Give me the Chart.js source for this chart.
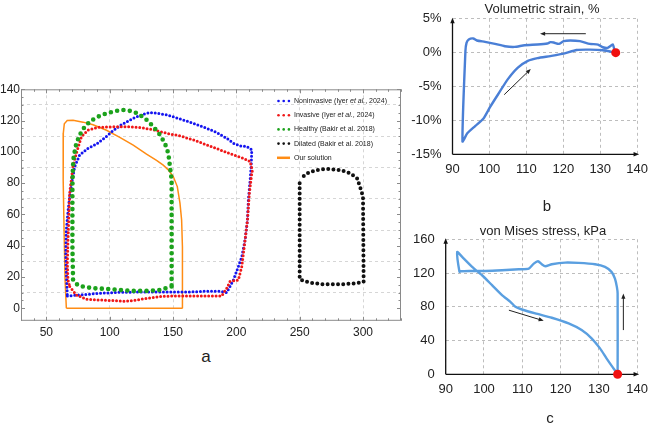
<!DOCTYPE html>
<html>
<head>
<meta charset="utf-8">
<script src="https://cdn.jsdelivr.net/npm/chart.js@4.4.0/dist/chart.umd.min.js"></script>
<style>
  html, body { margin: 0; padding: 0; background: #fff; }
  #wrap { position: relative; width: 655px; height: 424px; overflow: hidden;
          font-family: "Liberation Sans", Arial, sans-serif; color: #222; }
  .box { position: absolute; }
  .lbl { position: absolute; transform: translate(-50%, -50%); white-space: nowrap; }
</style>
</head>
<body>
<div id="wrap">
  <canvas id="pv" class="box" width="410" height="270" style="left:0;top:75px"></canvas>
  <canvas id="strain" class="box" width="250" height="185" style="left:405px;top:0"></canvas>
  <canvas id="stress" class="box" width="255" height="185" style="left:400px;top:220px"></canvas>
  <div class="lbl" style="left:542px;top:8px;font-size:13px">Volumetric strain, %</div>
  <div class="lbl" style="left:543px;top:230px;font-size:13px">von Mises stress, kPa</div>
  <div class="lbl" style="left:206px;top:357px;font-size:17px">a</div>
  <div class="lbl" style="left:547px;top:205px;font-size:15px">b</div>
  <div class="lbl" style="left:550px;top:417px;font-size:15px">c</div>
</div>
<script>
// ---- panel a: pressure-volume loops (mL, mmHg) ----
const noninvasiveVol = [66.6, 76.4, 92.2, 108.0, 123.8, 144.9, 160.8, 176.6, 187.1, 192.4, 195.0, 197.7, 201.6, 204.3, 206.9, 208.8, 209.5, 210.9, 211.7, 212.2, 208.2, 203.0, 197.7, 192.4, 184.5, 176.6, 166.0, 155.5, 144.9, 137.0, 131.8, 125.2, 118.6, 109.3, 102.7, 96.1, 89.6, 82.9, 76.3, 72.4, 70.0, 68.4, 67.1, 65.8, 65.3, 65.8, 66.6];
const noninvasiveP   = [7.9, 8.5, 9.6, 10.2, 10.4, 10.4, 10.4, 10.9, 10.9, 10.0, 13.9, 18.1, 26.7, 33.0, 43.7, 56.5, 69.3, 82.1, 90.6, 101.3, 103.4, 103.8, 105.5, 108.7, 112.4, 115.1, 118.3, 121.1, 123.7, 124.7, 125.2, 123.6, 121.5, 117.4, 113.5, 109.0, 105.0, 102.3, 98.0, 90.5, 80.0, 71.4, 62.0, 50.1, 35.2, 22.4, 7.9];

const invasiveVol = [68.5, 73.7, 81.6, 92.2, 102.7, 113.3, 121.2, 129.1, 139.7, 150.2, 166.0, 179.2, 188.4, 192.4, 195.0, 199.0, 201.6, 204.3, 206.9, 208.8, 210.3, 212.2, 212.7, 210.9, 205.6, 197.7, 187.1, 176.6, 166.0, 155.5, 144.9, 134.4, 123.8, 113.3, 102.7, 90.8, 82.9, 77.7, 73.7, 71.0, 68.4, 67.1, 66.6, 67.1, 68.5];
const invasiveP   = [13.9, 8.5, 5.8, 5.3, 4.9, 4.5, 5.3, 6.4, 7.5, 7.9, 7.9, 7.9, 7.9, 12.8, 17.1, 17.7, 18.1, 26.7, 43.7, 56.5, 73.6, 86.4, 88.1, 93.8, 95.9, 98.1, 101.3, 104.5, 107.7, 110.2, 111.9, 114.1, 115.6, 116.1, 116.0, 115.7, 114.0, 109.7, 99.1, 90.5, 73.5, 43.7, 28.8, 18.1, 13.9];

const healthyVol = [148.9, 139.7, 129.1, 118.6, 108.0, 97.5, 86.9, 79.0, 75.1, 71.1, 70.6, 70.6, 70.6, 71.0, 71.6, 73.7, 76.4, 80.3, 85.0, 90.8, 97.5, 105.4, 109.3, 113.3, 118.6, 123.8, 129.1, 134.4, 139.7, 143.6, 146.3, 147.6, 148.9, 148.9, 148.9, 148.9];
const healthyP   = [13.9, 11.7, 11.1, 11.1, 11.7, 12.4, 12.8, 13.9, 14.5, 18.1, 39.4, 65.0, 77.8, 90.5, 97.0, 105.5, 110.9, 116.1, 119.8, 122.5, 124.7, 126.2, 126.8, 126.6, 125.8, 123.7, 120.5, 116.2, 110.9, 105.5, 99.1, 90.6, 82.1, 56.5, 30.9, 13.9];

const dilatedVol = [250.0, 250.0, 253.0, 258.3, 268.8, 282.0, 295.2, 300.5, 300.0, 297.6, 295.3, 290.0, 282.0, 271.5, 263.6, 257.0, 252.5];
const dilatedP   = [80.0, 18.5, 17.5, 16.4, 15.3, 15.3, 16.0, 17.0, 71.4, 77.8, 83.1, 86.3, 88.4, 89.1, 88.4, 86.7, 84.1];

const solutionVol = [65.8, 157.6, 157.6, 157.3, 156.8, 155.5, 153.4, 150.2, 146.3, 142.3, 137.0, 129.1, 118.6, 108.0, 97.5, 86.9, 79.0, 71.1, 66.5, 64.2, 63.4, 63.2, 63.4, 64.0, 64.8, 65.8];
const solutionP   = [0, 0, 18.1, 39.4, 56.5, 67.2, 77.8, 84.2, 88.5, 91.5, 94.5, 98.5, 104.3, 109.3, 113.8, 117.3, 119.0, 120.2, 120.0, 118.0, 112.0, 100.0, 82.1, 50.1, 18.1, 0];

const legendLabels = [
  'Noninvasive (Iyer |et al.|, 2024)',
  'Invasive (Iyer |et al.|, 2024)',
  'Healthy (Bakir et al. 2018)',
  'Dilated (Bakir et al. 2018)',
  'Our solution'
];

// ---- panel b: volumetric strain (%) vs volume ----
const strainVol = [134.2, 133.8, 133.4, 132.0, 130.7, 129.4, 127.2, 124.5, 121.9, 120.1, 118.8, 117.4, 116.5, 115.7, 113.0, 109.5, 106.8, 104.2, 101.5, 98.8, 96.6, 95.6, 94.4, 93.8, 93.5, 92.7, 94.0, 96.2, 98.4, 100.2, 102.4, 105.0, 107.7, 110.4, 113.0, 116.5, 120.1, 123.6, 127.2, 130.7, 134.2];
const strainPct = [0, 0.5, 1.2, 0.7, 0.8, 1.2, 1.3, 1.7, 1.8, 1.7, 1.3, 1.5, 1.55, 1.35, 1.2, 1.1, 0.85, 0.95, 1.3, 1.6, 1.8, 2.1, 1.95, 1.45, 0.25, -13.1, -11.9, -10.8, -9.7, -8.0, -6.1, -3.9, -2.2, -1.2, -0.8, -0.5, -0.15, 0.4, 0.45, 0.35, 0];
const strainStart = [134.2, 0];
const strainArrows = [[104.0, -6.2, 111.2, -2.4], [126.1, 2.8, 113.7, 2.8]];

// ---- panel c: von Mises stress (kPa) vs volume ----
const stressVol = [134.9, 134.9, 134.7, 134.2, 133.3, 131.6, 129.0, 124.7, 121.2, 117.7, 116.0, 115.1, 114.1, 113.0, 111.7, 109.1, 104.7, 100.4, 96.1, 93.9, 93.6, 93.0, 94.3, 96.9, 99.5, 102.1, 104.7, 106.9, 108.2, 109.9, 113.4, 117.7, 122.1, 125.5, 128.1, 130.3, 132.0, 133.8, 134.9];
const stressKPa = [0, 95.7, 103.6, 113.5, 121.4, 127.3, 130.4, 132.0, 132.4, 130.4, 128.1, 130.4, 134.0, 131.2, 125.3, 124.5, 123.3, 122.5, 122.5, 122.1, 121.4, 145.0, 139.1, 127.3, 117.4, 105.6, 93.8, 85.9, 80.0, 76.8, 72.1, 67.0, 60.3, 52.4, 42.6, 30.7, 18.9, 7.1, 0];
const stressStart = [134.9, 0];
const stressArrows = [[106.5, 76.0, 115.6, 63.4], [136.4, 52.4, 136.4, 95.7]];

const FONT = '"Liberation Sans", Arial, sans-serif';
Chart.defaults.font.family = FONT;
Chart.defaults.color = '#222';

const pts = (xs, ys) => xs.map((x, i) => ({ x: x, y: ys[i] }));

function drawArrow(ctx, x1, y1, x2, y2, head) {
  const ang = Math.atan2(y2 - y1, x2 - x1);
  ctx.beginPath();
  ctx.moveTo(x1, y1);
  ctx.lineTo(x2 - Math.cos(ang) * head * 0.8, y2 - Math.sin(ang) * head * 0.8);
  ctx.stroke();
  ctx.beginPath();
  ctx.moveTo(x2, y2);
  ctx.lineTo(x2 - head * Math.cos(ang - 0.38), y2 - head * Math.sin(ang - 0.38));
  ctx.lineTo(x2 - head * Math.cos(ang + 0.38), y2 - head * Math.sin(ang + 0.38));
  ctx.closePath();
  ctx.fill();
}

// frame with inward ticks, Mathematica style
const frameTicks = {
  id: 'frameTicks',
  afterDraw(chart) {
    const { ctx, chartArea: a, scales: { x, y } } = chart;
    ctx.save();
    ctx.strokeStyle = '#8a8a8a';
    ctx.lineWidth = 1;
    ctx.strokeRect(a.left + 0.5, a.top + 0.5, a.width - 1, a.height - 1);
    ctx.beginPath();
    y.ticks.forEach(t => {
      if (t.value % 5 !== 0) return;
      const py = Math.round(y.getPixelForValue(t.value)) + 0.5;
      const len = t.value % 20 === 0 ? 4 : 2.5;
      ctx.moveTo(a.left, py); ctx.lineTo(a.left + len, py);
      ctx.moveTo(a.right, py); ctx.lineTo(a.right - len, py);
    });
    x.ticks.forEach(t => {
      if (t.value % 10 !== 0) return;
      const px = Math.round(x.getPixelForValue(t.value)) + 0.5;
      const len = t.value % 50 === 0 ? 4 : 2.5;
      ctx.moveTo(px, a.bottom); ctx.lineTo(px, a.bottom - len);
      ctx.moveTo(px, a.top); ctx.lineTo(px, a.top + len);
    });
    ctx.stroke();
    ctx.restore();
  }
};

const pvLegend = {
  id: 'pvLegend',
  afterDraw(chart) {
    const { ctx, chartArea: a } = chart;
    const ds = chart.data.datasets;
    const order = [3, 2, 1, 0, 4]; // dataset index for each legend row
    ctx.save();
    ctx.textBaseline = 'middle';
    legendLabels.forEach((label, i) => {
      const d = ds[order[i]];
      const yy = a.top + 11.7 + i * 14.2;
      const mx = a.right - 124;
      if (d.legendDot) {
        ctx.fillStyle = d.borderColor;
        for (let k = 0; k < 3; k++) {
          ctx.beginPath();
          ctx.arc(mx + 1.5 + k * 5.2, yy, 1.3, 0, Math.PI * 2);
          ctx.fill();
        }
      } else {
        ctx.strokeStyle = d.borderColor;
        ctx.lineWidth = 2.5;
        ctx.beginPath();
        ctx.moveTo(mx, yy); ctx.lineTo(mx + 13, yy);
        ctx.stroke();
      }
      let tx = a.right - 107;
      ctx.fillStyle = '#222';
      label.split('|').forEach((part, j) => {
        ctx.font = (j % 2 ? 'italic ' : '') + '7px ' + FONT;
        ctx.fillText(part, tx, yy);
        tx += ctx.measureText(part).width;
      });
    });
    ctx.restore();
  }
};

const dotted = (xs, ys, color, size, gap) => ({
  data: pts(xs, ys), showLine: true, pointRadius: 0,
  borderColor: color, backgroundColor: color, borderWidth: size,
  borderDash: [0, gap], borderCapStyle: 'round', borderJoinStyle: 'round',
  legendDot: true
});

new Chart(document.getElementById('pv'), {
  type: 'scatter',
  data: {
    datasets: [
      dotted(dilatedVol, dilatedP, '#111111', 4, 5.2),
      dotted(healthyVol, healthyP, '#1ca21c', 4.6, 6.4),
      dotted(invasiveVol, invasiveP, '#f01818', 3, 3.7),
      dotted(noninvasiveVol, noninvasiveP, '#1414f0', 3, 3.7),
      { data: pts(solutionVol, solutionP), showLine: true, pointRadius: 0,
        borderColor: '#ff8c14', borderWidth: 1.5, tension: 0 }
    ]
  },
  options: {
    responsive: false, animation: false,
    layout: { padding: { top: 14.3, right: 9, left: 0, bottom: 0 } },
    plugins: { legend: { display: false }, tooltip: { enabled: false } },
    scales: {
      x: {
        type: 'linear', min: 30, max: 330,
        afterFit: s => { s.height = 24.2; },
        ticks: { stepSize: 10, autoSkip: false, maxRotation: 0, padding: 5,
                 font: { size: 12 }, callback: v => (v % 50 === 0 ? v : '') },
        grid: { drawTicks: false,
                color: c => (c.tick && c.tick.value % 50 === 0 ? '#d6d6d6' : 'rgba(0,0,0,0)') },
        border: { display: false, dash: [3, 3] }
      },
      y: {
        type: 'linear', min: -8, max: 140,
        afterFit: s => { s.width = 21; },
        ticks: { stepSize: 5, autoSkip: false, padding: 1,
                 font: { size: 12 }, callback: v => (v % 20 === 0 ? v : '') },
        grid: { drawTicks: false,
                color: c => (c.tick && Math.abs(c.tick.value % 20) === 10 ? '#d6d6d6' : 'rgba(0,0,0,0)') },
        border: { display: false, dash: [3, 3] }
      }
    }
  },
  plugins: [frameTicks, pvLegend]
});

// arrow axes + annotation arrows for panels b and c
const arrowAxes = {
  id: 'arrowAxes',
  beforeDatasetsDraw(chart) {
    const { ctx, chartArea: a } = chart;
    ctx.save();
    ctx.strokeStyle = '#111'; ctx.fillStyle = '#111'; ctx.lineWidth = 1.3;
    drawArrow(ctx, a.left, a.bottom, a.left, a.top - 1, 6);
    drawArrow(ctx, a.left, a.bottom, a.right + 2, a.bottom, 6);
    ctx.restore();
  },
  afterDatasetsDraw(chart, args, opts) {
    const { ctx, scales: { x, y } } = chart;
    ctx.save();
    ctx.strokeStyle = '#222'; ctx.fillStyle = '#222'; ctx.lineWidth = 1;
    (opts.arrows || []).forEach(r => {
      drawArrow(ctx, x.getPixelForValue(r[0]), y.getPixelForValue(r[1]),
                x.getPixelForValue(r[2]), y.getPixelForValue(r[3]), 5.5);
    });
    ctx.restore();
  }
};

function loopChart(id, xs, ys, start, arrows, color, ymin, ymax, ystep, yfmt, pad, yw, ypad) {
  return new Chart(document.getElementById(id), {
    type: 'scatter',
    data: {
      datasets: [
        { data: [{ x: start[0], y: start[1] }], pointRadius: 4.5, pointBackgroundColor: '#f01010',
          pointBorderWidth: 0, clip: false },
        { data: pts(xs, ys), showLine: true, pointRadius: 0, borderColor: color,
          borderWidth: 2.4, tension: 0.2, clip: false }
      ]
    },
    options: {
      responsive: false, animation: false,
      layout: { padding: pad },
      plugins: { legend: { display: false }, tooltip: { enabled: false }, arrowAxes: { arrows: arrows } },
      scales: {
        x: {
          type: 'linear', min: 90, max: 140,
          afterFit: s => { s.height = 30.7; },
          ticks: { stepSize: 10, padding: 7, font: { size: 13 } },
          grid: { drawTicks: false, color: '#bdbdbd' },
          border: { display: false, dash: [3, 3] }
        },
        y: {
          type: 'linear', min: ymin, max: ymax,
          afterFit: s => { s.width = yw; },
          ticks: { stepSize: ystep, padding: ypad, font: { size: 13 }, callback: yfmt },
          grid: { drawTicks: false, color: '#bdbdbd' },
          border: { display: false, dash: [3, 3] }
        }
      }
    },
    plugins: [arrowAxes]
  });
}

loopChart('strain', strainVol, strainPct, strainStart, strainArrows, '#4a7fd6',
          -15, 5, 5, v => v + '%', { top: 18.3, right: 13.3, left: 0, bottom: 0 }, 47.5, 11);
loopChart('stress', stressVol, stressKPa, stressStart, stressArrows, '#5a9fe0',
          0, 160, 40, v => v, { top: 19.3, right: 16.7, left: 0, bottom: 0 }, 45.7, 11);
</script>
</body>
</html>
